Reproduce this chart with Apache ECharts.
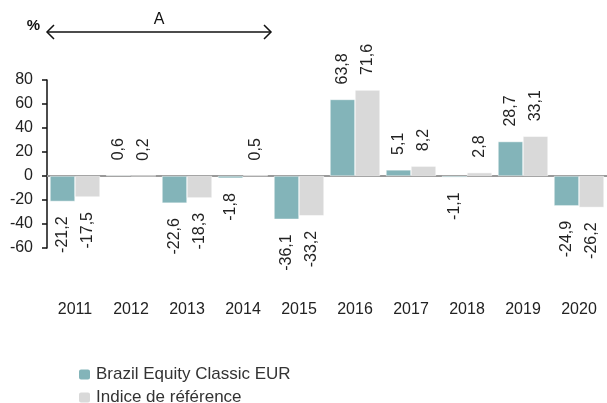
<!DOCTYPE html>
<html>
<head>
<meta charset="utf-8">
<script src="https://cdn.jsdelivr.net/npm/echarts@6/dist/echarts.min.js"></script>
<style>
html, body { margin: 0; padding: 0; background: #fff; }
#chart { width: 607px; height: 403px; }
</style>
</head>
<body>
<div id="chart"></div>
<script>
// years and yearly performance (%)
var years = ['2011', '2012', '2013', '2014', '2015', '2016', '2017', '2018', '2019', '2020'];
var fundValues = [-21.2, 0.6, -22.6, -1.8, -36.1, 63.8, 5.1, -1.1, 28.7, -24.9];
var indexValues = [-17.5, 0.2, -18.3, 0.5, -33.2, 71.6, 8.2, 2.8, 33.1, -26.2];
var seriesNames = ['Brazil Equity Classic EUR', 'Indice de référence'];
var yTicks = [-60, -40, -20, 0, 20, 40, 60, 80];
// period marked by the arrow at the top
var periodStart = '2011';
var periodEnd = '2014';
var periodLabel = 'A';

var FONT = '"Liberation Sans", Arial, sans-serif';

function fmt(v) {
    return v.toFixed(1).replace('.', ',');
}

function withLabels(values) {
    return values.map(function (v) {
        return {
            value: v,
            label: {
                position: v >= 0 ? 'top' : 'bottom',
                align: v >= 0 ? 'left' : 'right'
            }
        };
    });
}

var barLabel = {
    show: true,
    rotate: 90,
    verticalAlign: 'middle',
    distance: 15,
    color: '#222',
    fontSize: 16,
    fontFamily: FONT,
    formatter: function (p) { return fmt(p.value); }
};

var myChart = echarts.init(document.getElementById('chart'));

myChart.setOption({
    animation: false,
    grid: {
        left: 47,
        right: 0,
        top: 80,
        bottom: 155
    },
    legend: {
        orient: 'vertical',
        left: 72,
        top: 361,
        height: 80,
        itemWidth: 13,
        itemHeight: 12,
        itemGap: 6,
        textStyle: { fontSize: 17, color: '#333', fontFamily: FONT },
        data: seriesNames
    },
    xAxis: [
        {
            type: 'category',
            data: years,
            axisLine: { onZero: true, lineStyle: { color: '#999', width: 2 } },
            axisTick: { show: false },
            axisLabel: { show: false }
        },
        {
            type: 'category',
            data: years,
            position: 'bottom',
            axisLine: { show: false, onZero: false },
            axisTick: { show: false },
            axisLabel: { margin: 54, fontSize: 16, color: '#222', fontFamily: FONT }
        }
    ],
    yAxis: {
        type: 'value',
        min: yTicks[0],
        max: yTicks[yTicks.length - 1],
        interval: 20,
        name: '%',
        nameLocation: 'end',
        nameGap: 47,
        nameTextStyle: { align: 'right', padding: [0, 7, 0, 0], fontWeight: 'bold', fontSize: 15, color: '#111', fontFamily: FONT },
        splitLine: { show: false },
        axisLine: { show: true, lineStyle: { color: '#111', width: 1.5 } },
        axisTick: { show: true, length: 5, lineStyle: { color: '#111', width: 1.5 } },
        axisLabel: { margin: 14, fontSize: 16, color: '#222', fontFamily: FONT }
    },
    series: [
        {
            name: seriesNames[0],
            type: 'bar',
            data: withLabels(fundValues),
            barWidth: 25,
            barGap: '0%',
            itemStyle: { color: '#83b4b9', borderColor: '#fff', borderWidth: 0.5 },
            label: barLabel
        },
        {
            name: seriesNames[1],
            type: 'bar',
            data: withLabels(indexValues),
            barWidth: 25,
            barGap: '0%',
            itemStyle: { color: '#d9d9d9', borderColor: '#fff', borderWidth: 0.5 },
            label: barLabel
        }
    ]
});

// arrow over the period, positioned from the category axis
var xAxisModel = myChart.getModel().getComponent('xAxis', 0);
var band = xAxisModel.axis.getBandWidth();
var x1 = myChart.convertToPixel({ xAxisIndex: 0 }, periodStart) - band / 2;
var x2 = myChart.convertToPixel({ xAxisIndex: 0 }, periodEnd) + band / 2;
var ay = 32;
var head = 7;
var arrowStyle = { stroke: '#111', lineWidth: 1.5, fill: null };

myChart.setOption({
    graphic: [
        { type: 'line', shape: { x1: x1, y1: ay, x2: x2, y2: ay }, style: arrowStyle },
        { type: 'polyline', shape: { points: [[x1 + head, ay - head], [x1, ay], [x1 + head, ay + head]] }, style: arrowStyle },
        { type: 'polyline', shape: { points: [[x2 - head, ay - head], [x2, ay], [x2 - head, ay + head]] }, style: arrowStyle },
        {
            type: 'text',
            x: (x1 + x2) / 2,
            y: ay - 4,
            style: { text: periodLabel, fontSize: 16, fill: '#111', fontFamily: FONT, textAlign: 'center', textVerticalAlign: 'bottom' }
        }
    ]
});
</script>
</body>
</html>
